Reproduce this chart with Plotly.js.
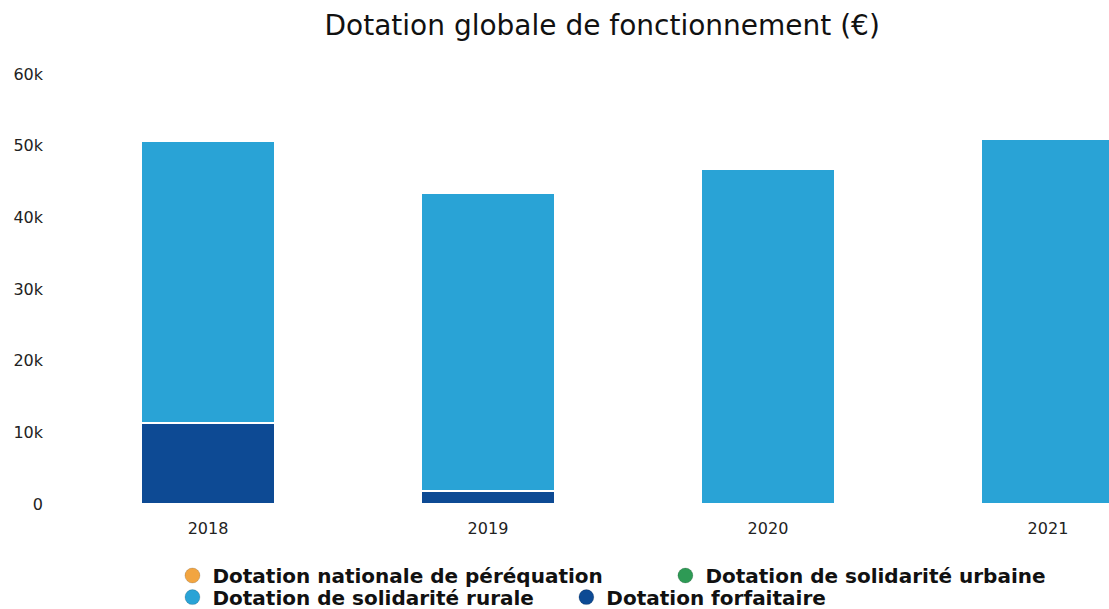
<!DOCTYPE html>
<html>
<head>
<meta charset="utf-8">
<script src="https://cdn.plot.ly/plotly-3.0.1.min.js"></script>
<style>html,body{margin:0;padding:0;background:#fff;}#chart{width:1109px;height:609px;}</style>
</head>
<body>
<div id="chart"></div>
<script>
const years = ["2018", "2019", "2020", "2021"];
const nationalePerequation = [0, 0, 0, 0];
const solidariteUrbaine = [0, 0, 0, 0];
const solidariteRurale = [39300, 41600, 46700, 50900];
const forfaitaire = [11300, 1800, 0, 0];
const seriesNames = ["Dotation nationale de péréquation", "Dotation de solidarité urbaine", "Dotation de solidarité rurale", "Dotation forfaitaire"];
const seriesColors = ["#f2a541", "#2e9a55", "#29a3d6", "#0d4a94"];
const yTickVals = [0, 10000, 20000, 30000, 40000, 50000, 60000];
const yTickText = ["0", "10k", "20k", "30k", "40k", "50k", "60k"];

const line = {color: "#ffffff", width: 1.5};
const seriesValues = [nationalePerequation, solidariteUrbaine, solidariteRurale, forfaitaire];
const legendIds = ["legend", "legend2", "legend3", "legend4"];
const traces = [];
// bars, forfaitaire stacked at the bottom
[3, 2, 1, 0].forEach(i => {
  traces.push({name: seriesNames[i], x: years, y: seriesValues[i], type: "bar", width: 0.475,
               marker: {color: seriesColors[i], line: line}, showlegend: false});
});
// legend entries with round markers
[0, 1, 2, 3].forEach(i => {
  traces.push({name: seriesNames[i], x: [null], y: [null], type: "scatter", mode: "markers",
               marker: {color: seriesColors[i], size: 15, symbol: "circle", line: {color: "rgba(0,0,0,0.15)", width: 1}},
               legend: legendIds[i], showlegend: true, hoverinfo: "skip"});
});

const legendFont = {family: "DejaVu Sans", size: 20, color: "#111111", weight: "bold"};
function legendAt(x, y) {
  return {orientation: "h", xref: "container", yref: "container", x: x, xanchor: "left", y: y, yanchor: "middle",
          font: legendFont, itemwidth: 30, traceorder: "normal", bgcolor: "rgba(0,0,0,0)"};
}
const layout = {
  width: 1109, height: 609,
  barmode: "stack",
  paper_bgcolor: "#ffffff", plot_bgcolor: "#ffffff",
  margin: {l: 68, r: 0, t: 74, b: 105},
  title: {text: "Dotation globale de fonctionnement (€)", x: 0.543, xanchor: "center", y: 0.958, yanchor: "middle",
          font: {family: "DejaVu Sans", size: 28, color: "#111111"}},
  xaxis: {type: "category", range: [-0.5, 3.218], showgrid: false, zeroline: false, showline: false, ticks: "",
          ticklabelstandoff: 13, tickfont: {family: "DejaVu Sans", size: 16, color: "#222222"}},
  yaxis: {range: [0, 60000], tickvals: yTickVals, ticktext: yTickText, showgrid: false, zeroline: false, showline: false,
          ticks: "", ticklabelstandoff: 24, tickfont: {family: "DejaVu Sans", size: 16, color: "#222222"}},
  legend: legendAt(0.1555, 0.055),
  legend2: legendAt(0.600, 0.055),
  legend3: legendAt(0.1555, 0.0195),
  legend4: legendAt(0.5107, 0.0195),
  showlegend: true
};
Plotly.newPlot("chart", traces, layout, {displayModeBar: false, staticPlot: true});
</script>
</body>
</html>
